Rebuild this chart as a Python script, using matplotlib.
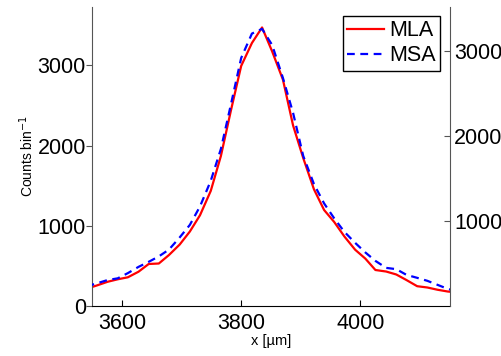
import matplotlib
matplotlib.use('Agg')
import matplotlib.pyplot as plt

plt.rcParams['font.family'] = ['Liberation Sans', 'DejaVu Sans']

# bin centres [um]
x = [3541, 3558, 3576, 3593, 3610, 3628, 3645, 3662, 3679, 3697, 3714, 3731,
     3749, 3766, 3783, 3800, 3818, 3835, 3852, 3870, 3887, 3904, 3922, 3939,
     3956, 3973, 3991, 4008, 4025, 4043, 4060, 4077, 4095, 4112, 4129, 4146, 4164]

# MLA counts (left axis)
mla = [216, 256, 302, 333, 358, 428, 524, 530, 636, 767, 929, 1132,
       1435, 1870, 2444, 2993, 3279, 3473, 3173, 2822, 2251, 1845, 1455, 1197,
       1047, 867, 702, 592, 449, 430, 393, 324, 247, 231, 203, 181, 168]

# MSA counts (right axis)
msa = [231, 266, 305, 325, 386, 460, 519, 583, 663, 806, 953, 1170,
       1470, 1845, 2373, 2913, 3200, 3255, 3065, 2678, 2268, 1763, 1432, 1205,
       1029, 871, 742, 630, 530, 448, 433, 366, 331, 296, 249, 202, 167]

fig = plt.figure(figsize=(5.02, 3.56), dpi=100)
ax = fig.add_axes([0.1833, 0.1404, 0.7131, 0.8399])
ax2 = ax.twinx()

l1, = ax.plot(x, mla, color='red', lw=1.6, label='MLA')
l2, = ax2.plot(x, msa, color='blue', lw=1.6, ls=(0, (3.5, 2.5)), label='MSA')

ax.set_xlim(3550, 4150)
ax.set_ylim(0, 3728)
ax2.set_ylim(0, 3512)

ax.set_xticks([3600, 3800, 4000])
ax.set_yticks([0, 1000, 2000, 3000])
ax2.set_yticks([1000, 2000, 3000])

for a in (ax, ax2):
    a.spines['top'].set_visible(False)
ax2.spines['left'].set_visible(False)
ax2.spines['bottom'].set_visible(False)
ax.spines['right'].set_visible(False)
ax.spines['left'].set_color('#555555')
ax2.spines['right'].set_color('#555555')

ax.tick_params(axis='y', direction='out', length=4, labelsize=15.5, pad=0.5, color='#555555')
ax.tick_params(axis='x', direction='in', length=4, labelsize=15.5, pad=5)
ax2.tick_params(axis='y', direction='in', length=4, labelsize=15.5, pad=3, color='#555555')

ax.set_xlabel('x [\u00b5m]', fontsize=10.5, labelpad=0)
ax.set_ylabel('Counts bin$^{-1}$', fontsize=10, labelpad=1)

leg = ax.legend(handles=[l1, l2], loc='upper right', bbox_to_anchor=(0.985, 0.985),
                fontsize=15.5, fancybox=False, edgecolor='black', framealpha=1,
                handlelength=1.7, handletextpad=0.25, borderpad=0.2,
                labelspacing=0.2, borderaxespad=0.2)
leg.get_frame().set_linewidth(1.0)

fig.savefig('out.png', dpi=100)
